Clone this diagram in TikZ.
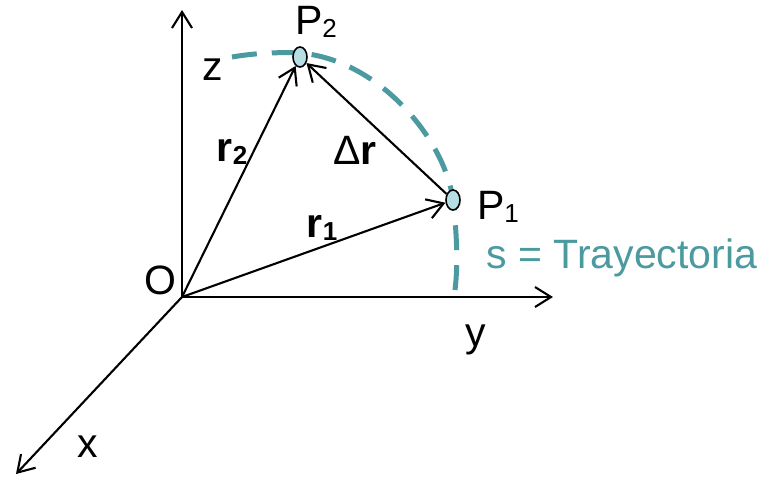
\documentclass[tikz,border=0pt]{standalone}
\usepackage{fontspec}
\setmainfont{Liberation Sans}
\usetikzlibrary{arrows.meta,shapes.geometric}

\definecolor{trayc}{RGB}{74,154,160}
\definecolor{puntoc}{RGB}{183,222,228}
\newcommand{\idx}[1]{{\fontsize{13}{13}\selectfont\raisebox{-1.5pt}{#1}}}

\begin{document}
\begin{tikzpicture}[
    x=0.5pt, y=-0.5pt,
    arr/.style={-{Straight Barb[length=8pt,width=10pt]}, line width=1.05pt},
    punto/.style={draw, ellipse, fill=puntoc, line width=0.8pt, minimum width=7pt, minimum height=10pt, inner sep=0pt},
    lbl/.style={font=\fontsize{20.5}{24}\selectfont, inner sep=0pt},
    tray/.style={draw=trayc, line width=2.5pt, dash pattern=on 12.5pt off 7.5pt}
]
\useasboundingbox (0,0) rectangle (769,478);

\coordinate (O) at (182,297);
\coordinate (zend) at (182,10);
\coordinate (yend) at (553,297);
\coordinate (xend) at (16,474);

% trayectoria
\draw[tray] (232,57) .. controls (255,53) and (280,52) .. (300,53)
    .. controls (380,60) and (445,140) .. (453,200)
    .. controls (457,235) and (458,265) .. (455,290);

\node[punto] (P2) at (300,57) {};
\node[punto] (P1) at (453,200) {};

% ejes
\draw[arr] (O) -- (zend);
\draw[arr] (O) -- (yend);
\draw[arr] (O) -- (xend);

% vectores
\draw[arr] (O) -- (P2);
\draw[arr] (O) -- (P1);
\draw[arr] (P1) -- (P2);

\node[lbl] (lz) at (213,70) {z};
\node[lbl] (ly) at (476,340) {y};
\node[lbl] (lx) at (88,447) {x};
\node[lbl] (lO) at (160,280) {O};
\node[lbl] (lP2) at (316,22) {P\idx{2}};
\node[lbl] (lP1) at (498,207) {P\idx{1}};
\node[lbl] (lr2) at (232,152) {\textbf{r}\idx{\textbf{2}}};
\node[lbl] (lr1) at (322,228) {\textbf{r}\idx{\textbf{1}}};
\node[lbl] (ldr) at (355,150) {Δ\textbf{r}};
\node[lbl, text=trayc, anchor=west] (ls) at (486,258) {s = Trayectoria};
\end{tikzpicture}
\end{document}
